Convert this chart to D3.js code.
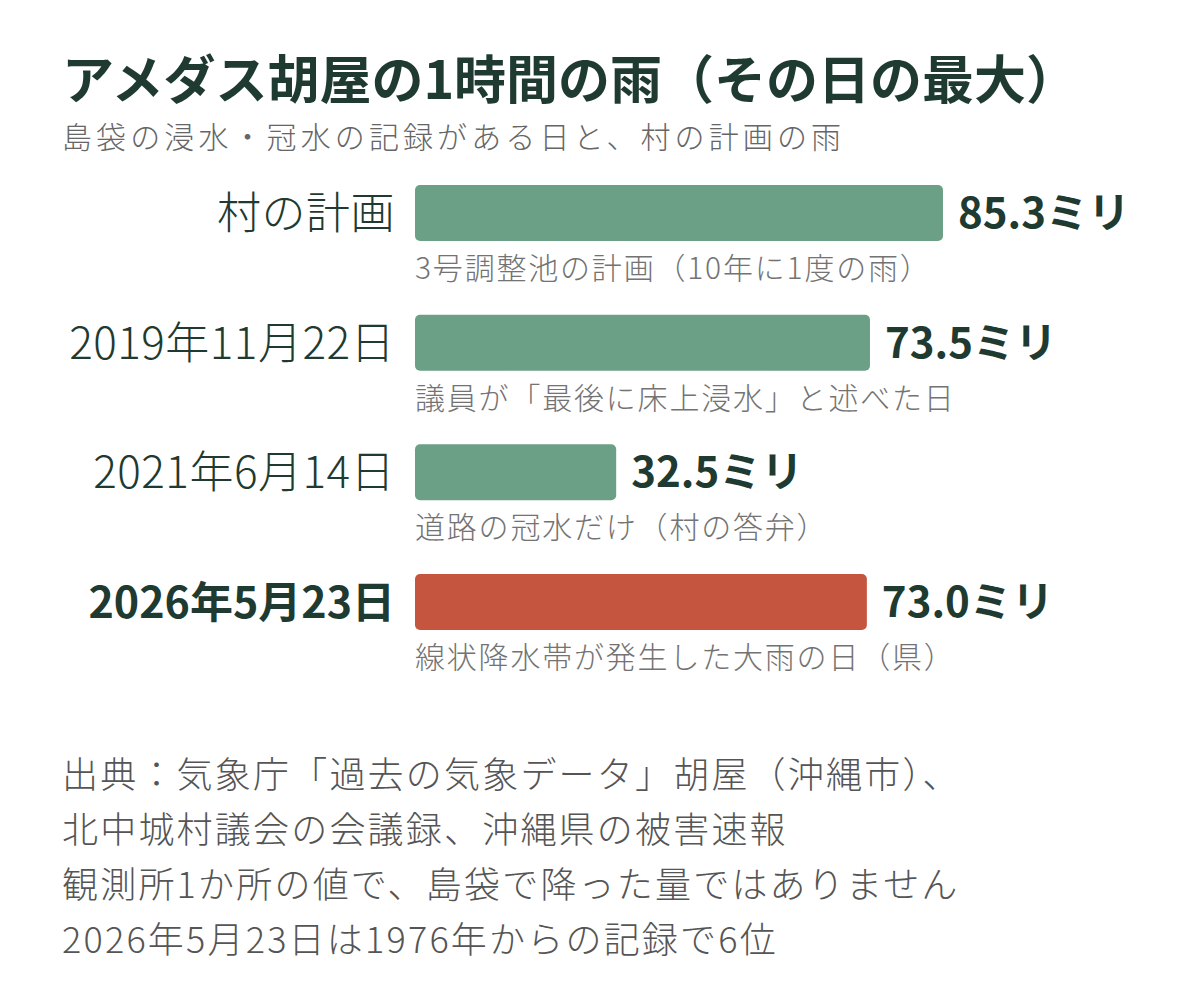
<!DOCTYPE html>
<html><head><meta charset="utf-8">
<script src="https://cdn.jsdelivr.net/npm/d3@7"></script>
<style>
html,body{margin:0;padding:0;background:#fff;}
svg{display:block;font-family:"Noto Sans CJK JP","Noto Sans",sans-serif;}
</style></head>
<body>
<script>
const titleText = "アメダス胡屋の1時間の雨（その日の最大）";
const subtitleText = "島袋の浸水・冠水の記録がある日と、村の計画の雨";
const categories = ["村の計画", "2019年11月22日", "2021年6月14日", "2026年5月23日"];
const values = [85.3, 73.5, 32.5, 73.0];
const notes = ["3号調整池の計画（10年に1度の雨）", "議員が「最後に床上浸水」と述べた日", "道路の冠水だけ（村の答弁）", "線状降水帯が発生した大雨の日（県）"];
const highlight = [false, false, false, true];
const unit = "ミリ";
const footerLines = [
  "出典：気象庁「過去の気象データ」胡屋（沖縄市）、",
  "北中城村議会の会議録、沖縄県の被害速報",
  "観測所1か所の値で、島袋で降った量ではありません",
  "2026年5月23日は1976年からの記録で6位"
];

const W = 1200, H = 992;
const dark = "#1f3a30", green = "#6b9f86", red = "#c5553e", gray = "#737373";
const svg = d3.select("body").append("svg").attr("width", W).attr("height", H);

svg.append("text").attr("x", 62).attr("y", 99).attr("font-size", 52).attr("font-weight", 700)
  .attr("fill", dark).text(titleText);
svg.append("text").attr("x", 62).attr("y", 148).attr("font-size", 30).attr("font-weight", 300)
  .attr("letter-spacing", 4.1).attr("fill", "#666").text(subtitleText);

const x = d3.scaleLinear().domain([0, 85.3]).range([415, 943]);
const y = d3.scaleBand().domain(categories).range([185, 630]).paddingInner(0.568).paddingOuter(0);

const rows = svg.append("g").selectAll("g").data(categories).join("g");
rows.append("rect")
  .attr("x", x(0)).attr("y", d => y(d))
  .attr("width", (d, i) => x(values[i]) - x(0)).attr("height", y.bandwidth())
  .attr("rx", 5).attr("fill", (d, i) => highlight[i] ? red : green);
rows.append("text")
  .attr("x", 395).attr("y", d => y(d) + y.bandwidth() / 2 + 16)
  .attr("text-anchor", "end")
  .attr("font-size", (d, i) => highlight[i] ? 43 : 44)
  .attr("letter-spacing", (d, i) => highlight[i] ? 0 : 0.5)
  .attr("font-weight", (d, i) => highlight[i] ? 700 : 300)
  .attr("fill", dark).text(d => d);
rows.append("text")
  .attr("x", (d, i) => x(values[i]) + 15).attr("y", d => y(d) + y.bandwidth() / 2 + 15)
  .attr("font-size", 42).attr("font-weight", 700).attr("fill", dark)
  .text((d, i) => d3.format(".1f")(values[i]) + unit);
rows.append("text")
  .attr("x", x(0)).attr("y", d => y(d) + y.bandwidth() + 38)
  .attr("font-size", 30).attr("font-weight", 300).attr("letter-spacing", 1.8)
  .attr("fill", gray).text((d, i) => notes[i]);

svg.append("g").selectAll("text").data(footerLines).join("text")
  .attr("x", 62).attr("y", (d, i) => 788 + i * 55)
  .attr("font-size", 36).attr("font-weight", 300).attr("letter-spacing", 2.2)
  .attr("fill", "#555").text(d => d);
</script>
</body></html>
